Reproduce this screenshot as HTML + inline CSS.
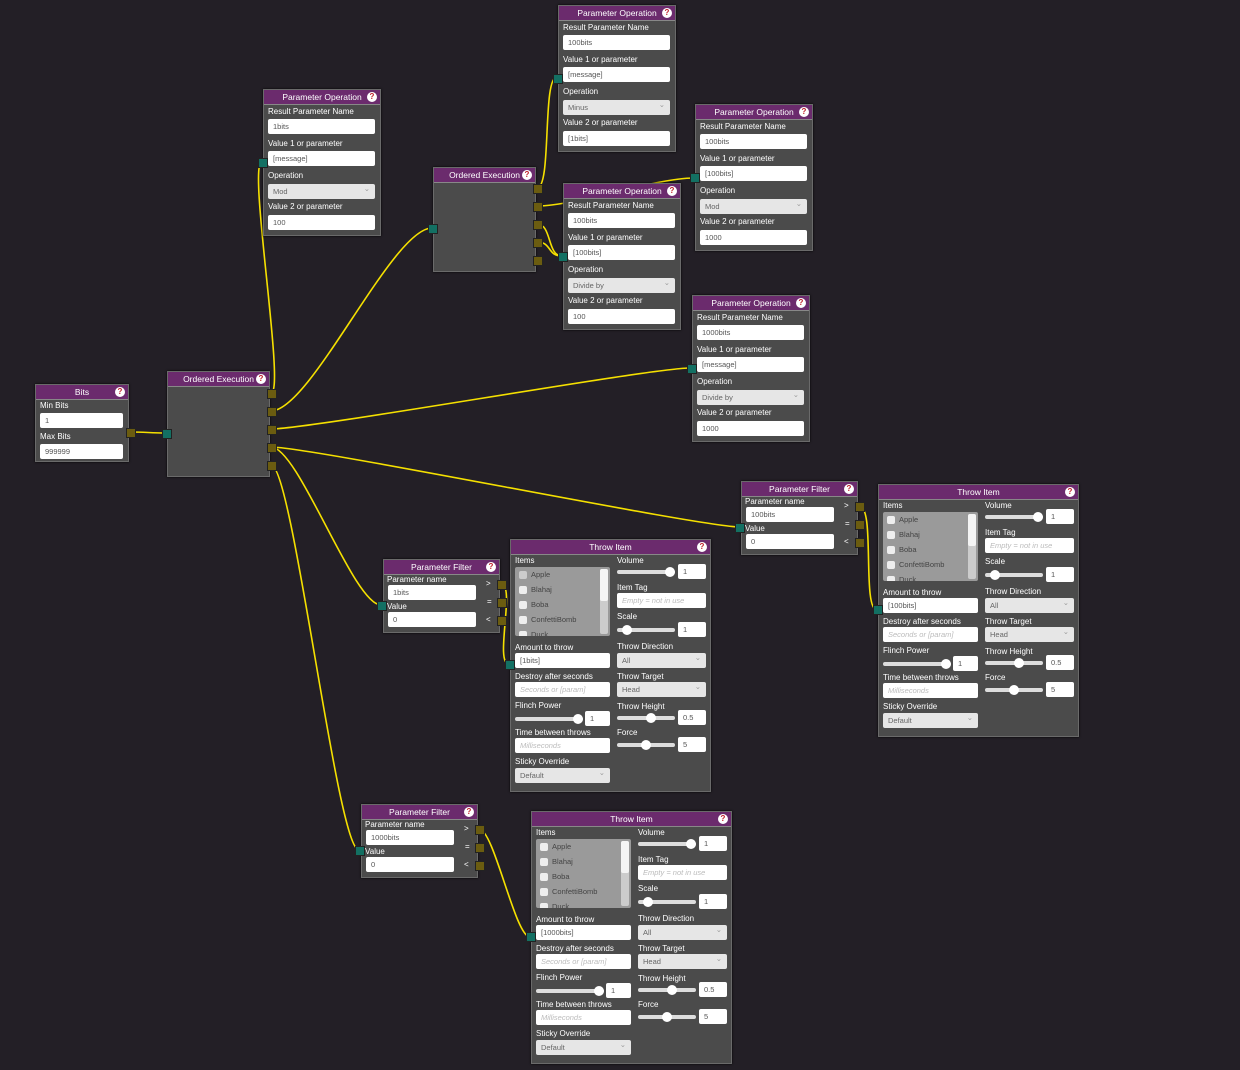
<!DOCTYPE html>
<html><head><meta charset="utf-8"><style>
body{margin:0;width:1240px;height:1070px;background:#231f26;position:relative;overflow:hidden;font-family:"Liberation Sans",sans-serif;}
.n{position:absolute;background:#4b4b4b;border:1px solid #6a6a6a;box-shadow:0 0 2px #000;box-sizing:border-box;}
.h{position:absolute;left:0;right:0;top:0;height:14px;background:#6b2b6d;color:#fff;font-size:8.5px;line-height:14px;text-align:center;border-bottom:1px solid #888;}
.q{position:absolute;right:3px;top:2px;width:10px;height:10px;border-radius:50%;background:#fff;color:#c0202a;font-size:8px;line-height:10px;text-align:center;font-weight:bold;}
.a{position:absolute;font-size:8px;color:#fff;white-space:nowrap;}
.i{position:absolute;background:#fff;border-radius:2px;height:15px;font-size:7.5px;line-height:15px;color:#555;padding-left:5px;box-sizing:border-box;white-space:nowrap;overflow:hidden;}
.ph{color:#bbb;font-style:italic;}
.s{position:absolute;background:#e6e6e6;border-radius:2px;height:15px;font-size:7.5px;line-height:15px;color:#666;padding-left:5px;box-sizing:border-box;}
.s:after{content:"⌄";position:absolute;right:5px;top:-3px;color:#999;}
.p{position:absolute;width:8px;height:8px;background:#6b5c10;border:1px solid #222;}
.pi{position:absolute;width:8px;height:8px;background:#137063;border:1px solid #222;}
.sl{position:absolute;height:4px;background:#ddd;border-radius:2px;}
.k{position:absolute;width:10px;height:10px;border-radius:50%;background:#fff;top:-3px;}
.lb{position:absolute;background:#9a9a9a;border-radius:2px;overflow:hidden;}
.cb{position:absolute;width:8px;height:8px;background:#eee;border-radius:2px;left:4px;}
.ct{position:absolute;left:16px;font-size:7.5px;color:#444;}
svg{position:absolute;left:0;top:0;}
</style></head><body>
<svg width="1240" height="1070" id="w"></svg>
<div id="c"></div>
<script>
var H='';
function el(cls,x,y,w,h,t,st){H+='<div class="'+cls+'" style="left:'+x+'px;top:'+y+'px;'+(w?'width:'+w+'px;':'')+(h?'height:'+h+'px;':'')+(st||'')+'">'+(t||'')+'</div>';}
function node(x,y,w,h,title){el('n',x,y,w,h,'<div class="h">'+title+'<div class="q">?</div></div>');}
function lab(x,y,t){el('a',x,y-5,0,0,t);}
function inp(x,y,w,t,ph){el('i'+(ph?' ph':''),x,y,w,0,t);}
function sel(x,y,w,t){el('s',x,y,w,0,t);}
function port(x,y){el('p',x-4,y-4);}
function pin(x,y){el('pi',x-4,y-4);}
function paramOp(x,y,r,v1,op,v2,ph){node(x,y,118,147,'Parameter Operation');
 lab(x+5,y+23,'Result Parameter Name');inp(x+5,y+30,107,r);
 lab(x+5,y+55,'Value 1 or parameter');inp(x+5,y+62,107,v1);
 lab(x+5,y+87,'Operation');sel(x+5,y+95,107,op);
 lab(x+5,y+118,'Value 2 or parameter');inp(x+5,y+126,107,v2);pin(x-1,y+73);}
function filt(x,y,name){node(x,y,117,74,'Parameter Filter');
 lab(x+4,y+21,'Parameter name');inp(x+5,y+26,88,name);lab(x+4,y+48,'Value');inp(x+5,y+53,88,'0');
 lab(x+103,y+25,'&gt;');lab(x+104,y+43,'=');lab(x+103,y+61,'&lt;');
 port(x+118,y+25);port(x+118,y+43);port(x+118,y+61);pin(x-2,y+46);}
function slider(x,y,w,f){H+='<div class="sl" style="left:'+x+'px;top:'+y+'px;width:'+w+'px"><div class="k" style="left:'+(f*(w-10))+'px"></div></div>';}
function thr(x,y,amt,chk){node(x,y,201,253,'Throw Item');
 lab(x+5,y+22,'Items');
 var lb='<div style="position:absolute;right:2px;top:2px;width:8px;height:65px;background:#ccc;border-radius:2px"><div style="height:32px;background:#f4f4f4;border-radius:2px"></div></div>';
 ['Apple','Blahaj','Boba','ConfettiBomb','Duck'].forEach(function(t,i){lb+='<div class="cb" style="top:'+(4+i*15)+'px'+(i==0&&chk?';background:#ccc':'')+'"></div><div class="ct" style="top:'+(3+i*15)+'px">'+t+'</div>';});
 el('lb',x+5,y+28,95,69,lb);
 lab(x+5,y+109,'Amount to throw');inp(x+5,y+114,95,amt);
 lab(x+5,y+138,'Destroy after seconds');inp(x+5,y+143,95,'Seconds or [param]',1);
 lab(x+5,y+167,'Flinch Power');slider(x+5,y+178,68,1);inp(x+75,y+172,25,'1');
 lab(x+5,y+194,'Time between throws');inp(x+5,y+199,95,'Milliseconds',1);
 lab(x+5,y+223,'Sticky Override');sel(x+5,y+229,95,'Default');
 lab(x+107,y+22,'Volume');slider(x+107,y+31,58,1);inp(x+168,y+25,28,'1');
 lab(x+107,y+49,'Item Tag');inp(x+107,y+54,89,'Empty = not in use',1);
 lab(x+107,y+78,'Scale');slider(x+107,y+89,58,0.1);inp(x+168,y+83,28,'1');
 lab(x+107,y+108,'Throw Direction');sel(x+107,y+114,89,'All');
 lab(x+107,y+138,'Throw Target');sel(x+107,y+143,89,'Head');
 lab(x+107,y+168,'Throw Height');slider(x+107,y+177,58,0.6);inp(x+168,y+171,28,'0.5');
 lab(x+107,y+194,'Force');slider(x+107,y+204,58,0.5);inp(x+168,y+198,28,'5');
 pin(x-1,y+125);}
node(35,384,94,78,'Bits');lab(40,406,'Min Bits');inp(40,413,83,'1','');lab(40,437,'Max Bits');inp(40,444,83,'999999');port(130,432);
node(167,371,103,106,'Ordered Execution');[393,411,429,447,465].forEach(function(y){port(271,y)});pin(166,433);
node(433,167,103,105,'Ordered Execution');[188,206,224,242,260].forEach(function(y){port(537,y)});pin(432,228);
paramOp(263,89,'1bits','[message]','Mod','100');
paramOp(558,5,'100bits','[message]','Minus','[1bits]');
paramOp(695,104,'100bits','[100bits]','Mod','1000');
paramOp(563,183,'100bits','[100bits]','Divide by','100');
paramOp(692,295,'1000bits','[message]','Divide by','1000');
filt(383,559,'1bits');filt(741,481,'100bits');filt(361,804,'1000bits');
thr(510,539,'[1bits]',1);thr(878,484,'[100bits]',0);thr(531,811,'[1000bits]',0);
document.getElementById('c').innerHTML=H;
var C=[[130,432,166,433],[271,393,262,162],[271,411,432,228],[271,429,690,368],[271,447,740,527],[271,447,381,605],[271,465,359,850],
[537,188,557,77],[537,206,694,178],[537,224,562,256],[537,242,562,256],[501,584,509,664],[860,507,877,610],[479,829,530,937]];
var s='';C.forEach(function(c){var d=Math.max(15,Math.min(40,Math.abs(c[2]-c[0])/4));
s+='<path d="M'+c[0]+' '+c[1]+' C'+(c[0]+d)+' '+c[1]+' '+(c[2]-d)+' '+c[3]+' '+c[2]+' '+c[3]+'" stroke="#f5e000" stroke-width="1.6" fill="none"/>';});
document.getElementById('w').innerHTML=s;
</script>
</body></html>
